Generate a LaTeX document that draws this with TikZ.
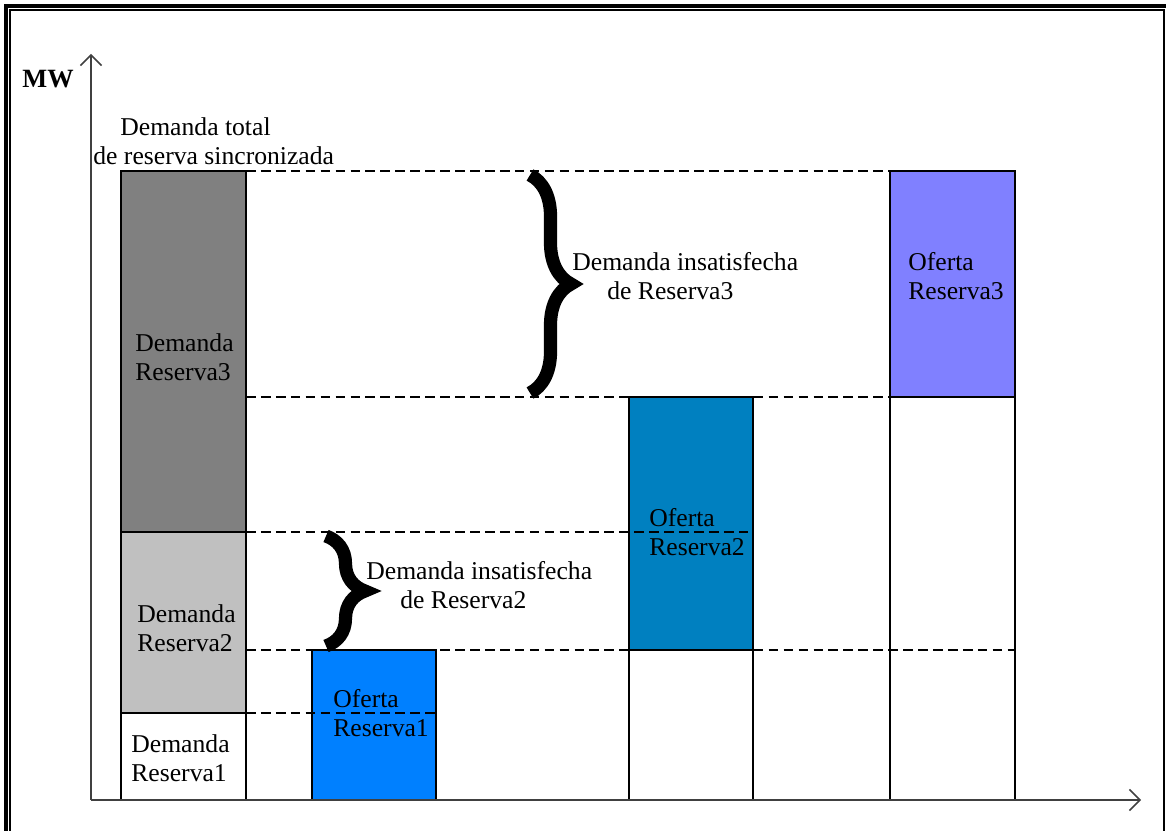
\documentclass[tikz,border=0pt]{standalone}
\usepackage{fontspec}
\setmainfont{Liberation Serif}
\usetikzlibrary{positioning, arrows.meta, decorations.pathreplacing}
\definecolor{DemTres}{HTML}{808080}
\definecolor{DemDos}{HTML}{C0C0C0}
\definecolor{OfUno}{HTML}{0080FF}
\definecolor{OfDos}{HTML}{0080C0}
\definecolor{OfTres}{HTML}{8080FF}

\begin{document}
\begin{tikzpicture}[
	x=0.02cm, y=-0.02cm,
	BarCfg/.style={draw=black, line width=1pt},
	Guide/.style={dash pattern=on 5.5pt off 3pt, line width=0.9pt},
	Axis/.style={draw=black!75, line width=0.9pt,
		-{Straight Barb[length=6pt, width=12pt, line width=0.9pt]}},
	Label/.style={font=\fontsize{14.6}{16.5}\selectfont, align=left,
		inner sep=0pt, anchor=west},
	Brace/.style={decorate, line width=7.5pt,
		decoration={brace, amplitude=#1}}
	]
	
	\useasboundingbox (0,0) rectangle (1166,831);
	
	% frame
	\draw[line width=1.8pt] (6,840) -- (6,6) -- (1170,6);
	\draw[line width=1.3pt] (10,840) -- (10,10) -- (1164,10) -- (1164,840);
	
	% demand column
	\draw[BarCfg, fill=DemTres] (121,171) rectangle (246,532);
	\draw[BarCfg, fill=DemDos]  (121,532) rectangle (246,713);
	\draw[BarCfg, fill=white]   (121,713) rectangle (246,800);
	
	% guide lines
	\draw[Guide]
	(246,171) -- (890,171)
	(246,397) -- (890,397);
	
	% offer columns
	\draw[BarCfg, fill=OfUno]  (312,650) rectangle (436,800);
	\draw[BarCfg, fill=OfDos]  (629,397) rectangle (753,650);
	\draw[BarCfg, fill=white]  (629,650) rectangle (753,800);
	\draw[BarCfg, fill=OfTres] (890,171) rectangle (1015,397);
	\draw[BarCfg, fill=white]  (890,397) rectangle (1015,800);
	
	\draw[Guide]
	(246,532) -- (753,532)
	(246,650) -- (1015,650)
	(246,713) -- (436,713);
	
	% axes
	\draw[Axis] (91,800) -- (91,54);
	\draw[Axis] (91,800) -- (1141,800);
	
	% braces
	\draw[Brace=0.82cm] (530,175) -- (530,393);
	\draw[Brace=0.78cm] (326,536) -- (326,646);
	
	\path
	(74,79) node [font=\fontsize{15}{16.5}\selectfont\bfseries, anchor=east, inner sep=0pt] (MW) {MW}
	(93,141) node [Label] (Total) {\hspace{0.54cm}Demanda total\\de reserva sincronizada}
	(135,357) node [Label] (DemR3) {Demanda\\Reserva3}
	(137,628) node [Label] (DemR2) {Demanda\\Reserva2}
	(131,758) node [Label] (DemR1) {Demanda\\Reserva1}
	(333,713) node [Label] (OfR1) {Oferta\\Reserva1}
	(649,532) node [Label] (OfR2) {Oferta\\Reserva2}
	(908,276) node [Label] (OfR3) {Oferta\\Reserva3}
	(572,276) node [Label] (FaltaR3) {Demanda insatisfecha\\\hspace{0.7cm}de Reserva3}
	(366,585) node [Label] (FaltaR2) {Demanda insatisfecha\\\hspace{0.68cm}de Reserva2};
	
\end{tikzpicture}
\end{document}
